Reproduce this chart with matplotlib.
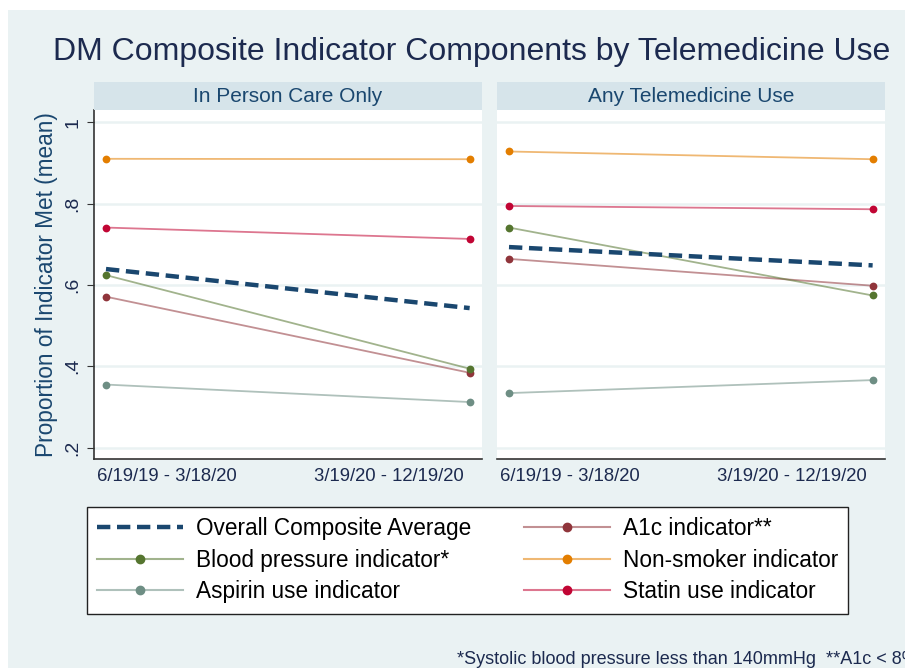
import matplotlib
matplotlib.use("Agg")
import matplotlib.pyplot as plt
from matplotlib.patches import Rectangle
from matplotlib.lines import Line2D

plt.rcParams['font.family'] = ['Liberation Sans', 'DejaVu Sans']

periods = ["6/19/19 - 3/18/20", "3/19/20 - 12/19/20"]
panels = ["In Person Care Only", "Any Telemedicine Use"]
yticks = [0.2, 0.4, 0.6, 0.8, 1.0]
yticklabels = [".2", ".4", ".6", ".8", "1"]

series_names = ["Overall Composite Average", "Blood pressure indicator*", "Aspirin use indicator",
                "A1c indicator**", "Non-smoker indicator", "Statin use indicator"]

# values: [in person, telemedicine], each [period1, period2]
composite = [[0.639, 0.543], [0.693, 0.648]]
bp = [[0.624, 0.394], [0.741, 0.574]]
aspirin = [[0.355, 0.312], [0.334, 0.366]]
a1c = [[0.571, 0.384], [0.664, 0.598]]
nonsmoker = [[0.910, 0.909], [0.928, 0.909]]
statin = [[0.741, 0.713], [0.794, 0.786]]

colors = {
    "composite": "#1a476f",
    "bp": "#55752f",
    "aspirin": "#6e8e84",
    "a1c": "#90353b",
    "nonsmoker": "#e37e00",
    "statin": "#c10534",
}

W, H = 905, 668
fig = plt.figure(figsize=(W / 100, H / 100), dpi=100)
fig.patch.set_facecolor("white")
bg = "#eaf2f3"
fig.patches.append(Rectangle((8 / W, 0), 1, (H - 10) / H, transform=fig.transFigure,
                             facecolor=bg, edgecolor="none", zorder=-10))

def fx(px):
    return px / W

def fy(py):
    return (H - py) / H

dash = (0, (3.0, 1.5))
ax_top, ax_bot = 110, 459
lefts = [(94, 482), (497, 885)]
for i, (x0, x1) in enumerate(lefts):
    ax = fig.add_axes([fx(x0), fy(ax_bot), fx(x1 - x0), (ax_bot - ax_top) / H])
    ax.set_facecolor("white")
    ax.set_xlim(-0.033, 1.034)
    ax.set_ylim(0.172, 1.030)
    ax.set_yticks(yticks)
    for y in yticks:
        ax.axhline(y, color=bg, lw=1.8, zorder=0)
    ax.set_xticks([0, 1])
    ax.set_xticklabels(["", ""])
    ax.tick_params(axis="x", length=0)
    ax.text(0.008, -0.025, periods[0], transform=ax.transAxes, ha="left", va="top",
            fontsize=13.3, color="#1c2a4f")
    ax.text(0.953, -0.025, periods[1], transform=ax.transAxes, ha="right", va="top",
            fontsize=13.3, color="#1c2a4f")
    for s in ["top", "right"]:
        ax.spines[s].set_visible(False)
    ax.spines["bottom"].set_color("#333333")
    ax.spines["bottom"].set_linewidth(1.2)
    if i == 0:
        ax.spines["left"].set_color("#333333")
        ax.spines["left"].set_linewidth(1.2)
        ax.set_yticklabels(yticklabels, fontsize=14, color="#1c2a4f", rotation=90, va="center")
        ax.tick_params(axis="y", length=5, color="#333333", pad=4)
        ax.set_ylabel("Proportion of Indicator Met (mean)", fontsize=16.3, color="#1a476f", labelpad=5)
    else:
        ax.spines["left"].set_visible(False)
        ax.tick_params(axis="y", length=0, labelleft=False)

    x = [0, 1]
    for key, data in [("aspirin", aspirin), ("a1c", a1c), ("bp", bp),
                      ("statin", statin), ("nonsmoker", nonsmoker)]:
        c = colors[key]
        ax.plot(x, data[i], color=c, lw=1.3, alpha=0.55, zorder=2)
        ax.plot(x, data[i], ls="none", marker="o", ms=5.6, color=c, mec="none", zorder=3)
    ax.plot(x, composite[i], color=colors["composite"], lw=3.2, ls=dash, zorder=4)

    fig.patches.append(Rectangle((fx(x0), fy(ax_top)), fx(x1 - x0), 28 / H,
                                 transform=fig.transFigure, facecolor="#d6e4ea",
                                 edgecolor="none", zorder=1))
    fig.text(fx((x0 + x1) / 2), fy(96), panels[i], ha="center", va="center",
             fontsize=15, color="#1a476f")

fig.text(fx(472), fy(52), "DM Composite Indicator Components by Telemedicine Use",
         ha="center", va="center", fontsize=23, color="#1c2a4f")

keys = ["composite", "bp", "aspirin", "a1c", "nonsmoker", "statin"]
handles = [Line2D([], [], color=colors["composite"], lw=3.2, ls=dash)]
for key in keys[1:]:
    handles.append(Line2D([], [], color=matplotlib.colors.to_rgba(colors[key], 0.55), lw=1.5,
                          marker="o", ms=6, mfc=colors[key], mec=colors[key], markevery=[1]))

leg = fig.legend(handles, series_names, ncol=2, loc="upper left",
                 bbox_to_anchor=(fx(87), fy(507)), fontsize=16.3,
                 frameon=True, fancybox=False, edgecolor="#222222",
                 facecolor="white", framealpha=1, handlelength=3.8,
                 handletextpad=0.55, columnspacing=2.35, labelspacing=0.38,
                 borderpad=0.45, borderaxespad=0)
leg.get_frame().set_linewidth(1.0)

fig.text(fx(457), fy(660), "*Systolic blood pressure less than 140mmHg  **A1c < 8%",
         ha="left", va="center", fontsize=13.0, color="#1c2a4f")

fig.savefig("out.png", dpi=100, facecolor=fig.get_facecolor())
